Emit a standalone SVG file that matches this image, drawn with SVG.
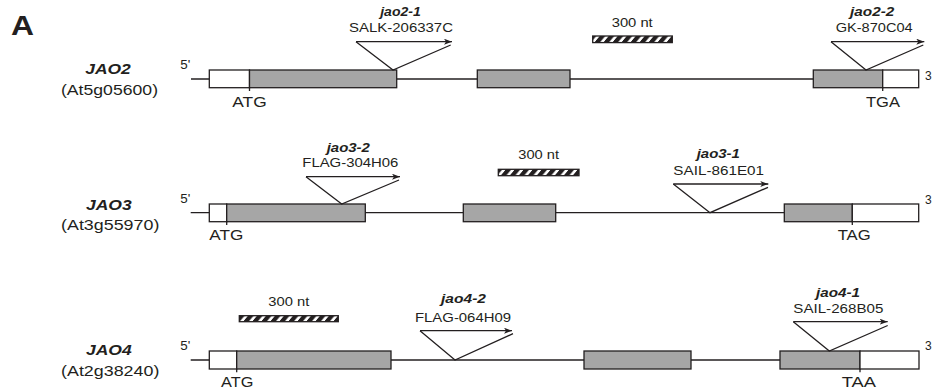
<svg xmlns="http://www.w3.org/2000/svg" width="932" height="392" viewBox="0 0 932 392">
<style>
text{font-family:"Liberation Sans",Arial,sans-serif;fill:#231f20}
.bi{font-weight:bold;font-style:italic}
.gene{font-size:15px}
.loc{font-size:15px}
.al{font-size:12px}
.ln{font-size:12.5px}
.cod{font-size:14px}
.end{font-size:12px}
.scl{font-size:12.5px}
.mid{text-anchor:middle}
.bb{stroke:#231f20;stroke-width:1.3;fill:none}
.utr{fill:#ffffff;stroke:#231f20;stroke-width:1.3}
.exon{fill:#a6a6a6;stroke:#231f20;stroke-width:1.3}
.tick{stroke:#231f20;stroke-width:1.3}
.ins{stroke:#231f20;stroke-width:1.3;fill:none}
.bar{fill:url(#hatch);stroke:#231f20;stroke-width:1.3}
</style>
<defs>
<marker id="arr" markerUnits="userSpaceOnUse" markerWidth="10" markerHeight="8" refX="8" refY="3" orient="auto">
<path d="M0,0 L8,3 L0,6 L2,3 z" fill="#231f20"/>
</marker>
<pattern id="hatch" patternUnits="userSpaceOnUse" width="9" height="8" patternTransform="skewX(-40)">
<rect width="9" height="8" fill="#ffffff"/>
<rect width="5.5" height="8" fill="#231f20"/>
</pattern>
</defs>

<text x="11" y="35" style="font-size:28px;font-weight:bold" textLength="23" lengthAdjust="spacingAndGlyphs">A</text>

<g id="connectors">
<line class="bb" x1="191" y1="79" x2="882.7" y2="79"/>
<line class="bb" x1="190.7" y1="212.7" x2="852.3" y2="212.7"/>
<line class="bb" x1="190.7" y1="360" x2="860" y2="360"/>
</g>

<g id="JAO2">
<text class="gene bi mid" x="108" y="74" textLength="45.5" lengthAdjust="spacingAndGlyphs">JAO2</text>
<text class="loc mid" x="109.5" y="95" textLength="97" lengthAdjust="spacingAndGlyphs">(At5g05600)</text>
<text class="end" x="180.3" y="69" textLength="10" lengthAdjust="spacingAndGlyphs">5'</text>
<text class="end" x="925" y="80">3</text>
<rect class="utr" x="209.3" y="70" width="40.2" height="17.7"/>
<rect class="exon" x="249.5" y="70" width="147.2" height="17.7"/>
<rect class="exon" x="477.3" y="70" width="92.7" height="17.7"/>
<rect class="exon" x="813.3" y="70" width="69.4" height="17.7"/>
<rect class="utr" x="882.7" y="70" width="36" height="17.7"/>
<line class="tick" x1="249.5" y1="87.7" x2="249.5" y2="91"/>
<line class="tick" x1="882.7" y1="87.7" x2="882.7" y2="91"/>
<text class="cod mid" x="249.5" y="106.7" textLength="34.4" lengthAdjust="spacingAndGlyphs">ATG</text>
<text class="cod mid" x="883" y="106.5" textLength="34" lengthAdjust="spacingAndGlyphs">TGA</text>
<text class="scl mid" x="632.2" y="26.7" textLength="41" lengthAdjust="spacingAndGlyphs">300 nt</text>
<rect class="bar" x="592.7" y="36" width="79.6" height="6.6"/>
</g>

<g id="jao2-1">
<text class="al bi mid" x="400.5" y="16" textLength="40.7" lengthAdjust="spacingAndGlyphs">jao2-1</text>
<text class="ln mid" x="401" y="32.3" textLength="104" lengthAdjust="spacingAndGlyphs">SALK-206337C</text>
<line class="ins" x1="356" y1="41.7" x2="452" y2="41.7" marker-end="url(#arr)"/>
<polyline class="ins" points="356,41.7 393,70 450.7,45"/>
</g>

<g id="jao2-2">
<text class="al bi mid" x="872.2" y="15.5" textLength="44.3" lengthAdjust="spacingAndGlyphs">jao2-2</text>
<text class="ln mid" x="874.2" y="31.7" textLength="77" lengthAdjust="spacingAndGlyphs">GK-870C04</text>
<line class="ins" x1="831" y1="41.7" x2="924.3" y2="41.7" marker-end="url(#arr)"/>
<polyline class="ins" points="831,41.7 866,70 923.3,45"/>
</g>

<g id="JAO3">
<text class="gene bi mid" x="108.8" y="210" textLength="45.7" lengthAdjust="spacingAndGlyphs">JAO3</text>
<text class="loc mid" x="110.2" y="230" textLength="98.3" lengthAdjust="spacingAndGlyphs">(At3g55970)</text>
<text class="end" x="180.3" y="203.3" textLength="10" lengthAdjust="spacingAndGlyphs">5'</text>
<text class="end" x="925" y="204">3</text>
<rect class="utr" x="209.3" y="204" width="17.4" height="17.7"/>
<rect class="exon" x="226.7" y="204" width="138.6" height="17.7"/>
<rect class="exon" x="463.3" y="204" width="92.4" height="17.7"/>
<rect class="exon" x="784.3" y="204" width="68" height="17.7"/>
<rect class="utr" x="852.3" y="204" width="66.4" height="17.7"/>
<line class="tick" x1="226.7" y1="221.7" x2="226.7" y2="225"/>
<line class="tick" x1="852.3" y1="221.7" x2="852.3" y2="225"/>
<text class="cod mid" x="226.3" y="240" textLength="34" lengthAdjust="spacingAndGlyphs">ATG</text>
<text class="cod mid" x="854.2" y="240" textLength="33" lengthAdjust="spacingAndGlyphs">TAG</text>
<text class="scl mid" x="538.7" y="159.3" textLength="40.7" lengthAdjust="spacingAndGlyphs">300 nt</text>
<rect class="bar" x="498.3" y="169.3" width="80.7" height="6.4"/>
</g>

<g id="jao3-2">
<text class="al bi mid" x="348.3" y="151.7" textLength="43.3" lengthAdjust="spacingAndGlyphs">jao3-2</text>
<text class="ln mid" x="350.3" y="166.7" textLength="96" lengthAdjust="spacingAndGlyphs">FLAG-304H06</text>
<line class="ins" x1="306" y1="176.7" x2="400" y2="176.7" marker-end="url(#arr)"/>
<polyline class="ins" points="306,176.7 341.7,204 399,180"/>
</g>

<g id="jao3-1">
<text class="al bi mid" x="718.3" y="158.3" textLength="43.3" lengthAdjust="spacingAndGlyphs">jao3-1</text>
<text class="ln mid" x="718.7" y="175" textLength="90.7" lengthAdjust="spacingAndGlyphs">SAIL-861E01</text>
<line class="ins" x1="673.3" y1="184" x2="768.3" y2="184" marker-end="url(#arr)"/>
<polyline class="ins" points="673.3,184 710,212.7 768,187.3"/>
</g>

<g id="JAO4">
<text class="gene bi mid" x="108.8" y="355" textLength="45.7" lengthAdjust="spacingAndGlyphs">JAO4</text>
<text class="loc mid" x="110.2" y="376" textLength="98.3" lengthAdjust="spacingAndGlyphs">(At2g38240)</text>
<text class="end" x="180.3" y="350" textLength="10" lengthAdjust="spacingAndGlyphs">5'</text>
<text class="end" x="925" y="350">3</text>
<rect class="utr" x="209.3" y="351" width="27.4" height="18"/>
<rect class="exon" x="236.7" y="351" width="154.3" height="18"/>
<rect class="exon" x="584" y="351" width="107" height="18"/>
<rect class="exon" x="780" y="351" width="80" height="18"/>
<rect class="utr" x="860" y="351" width="59" height="18"/>
<line class="tick" x1="236.7" y1="369" x2="236.7" y2="372.3"/>
<line class="tick" x1="860" y1="369" x2="860" y2="372.3"/>
<text class="cod mid" x="237.2" y="386.7" textLength="32.3" lengthAdjust="spacingAndGlyphs">ATG</text>
<text class="cod mid" x="858.8" y="386.7" textLength="34.3" lengthAdjust="spacingAndGlyphs">TAA</text>
<text class="scl mid" x="288.8" y="306" textLength="41" lengthAdjust="spacingAndGlyphs">300 nt</text>
<rect class="bar" x="239.3" y="315.7" width="99" height="6"/>
</g>

<g id="jao4-2">
<text class="al bi mid" x="463.5" y="303.3" textLength="45" lengthAdjust="spacingAndGlyphs">jao4-2</text>
<text class="ln mid" x="463" y="321.7" textLength="96" lengthAdjust="spacingAndGlyphs">FLAG-064H09</text>
<line class="ins" x1="420" y1="330.7" x2="512" y2="330.7" marker-end="url(#arr)"/>
<polyline class="ins" points="420,330.7 455,360 513,333.7"/>
</g>

<g id="jao4-1">
<text class="al bi mid" x="838" y="296.7" textLength="44" lengthAdjust="spacingAndGlyphs">jao4-1</text>
<text class="ln mid" x="838.3" y="312.7" textLength="90" lengthAdjust="spacingAndGlyphs">SAIL-268B05</text>
<line class="ins" x1="793.3" y1="321.7" x2="887.7" y2="321.7" marker-end="url(#arr)"/>
<polyline class="ins" points="793.3,321.7 829.3,351 887.7,325.5"/>
</g>
</svg>
